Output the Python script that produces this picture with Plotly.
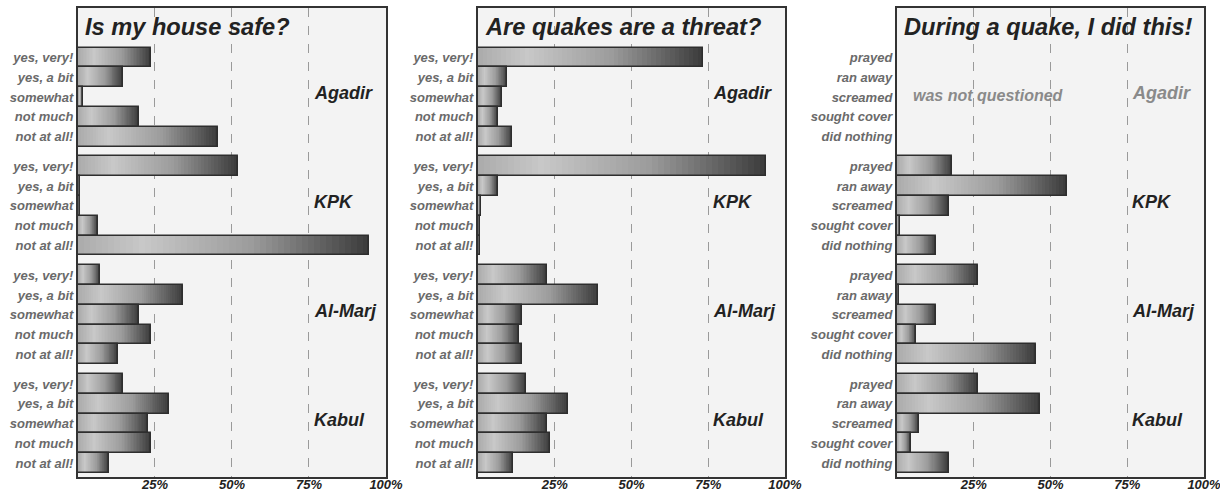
import plotly.graph_objects as go
from plotly.colors import sample_colorscale

# ---- data -------------------------------------------------------------
cities = ["Agadir", "KPK", "Al-Marj", "Kabul"]

answers_opinion = ["yes, very!", "yes, a bit", "somewhat", "not much", "not at all!"]
answers_action = ["prayed", "ran away", "screamed", "sought cover", "did nothing"]

titles = ["Is my house safe?", "Are quakes are a threat?", "During a quake, I did this!"]

# percentages per city, in answer order
house_safe = {
    "Agadir": [23.7, 14.5, 1.7, 19.7, 45.5],
    "KPK": [51.8, 0.8, 0.8, 6.4, 94.4],
    "Al-Marj": [7.2, 34.2, 19.7, 23.7, 12.9],
    "Kabul": [14.6, 29.4, 22.8, 23.7, 10.0],
}
quake_threat = {
    "Agadir": [73.2, 9.6, 7.7, 6.4, 11.1],
    "KPK": [93.8, 6.4, 1.0, 0.5, 0.5],
    "Al-Marj": [22.6, 39.2, 14.3, 13.2, 14.3],
    "Kabul": [15.5, 29.2, 22.5, 23.5, 11.4],
}
quake_action = {
    "Agadir": None,  # was not questioned
    "KPK": [18.0, 55.2, 16.8, 1.0, 12.6],
    "Al-Marj": [26.3, 0.7, 12.6, 6.3, 45.3],
    "Kabul": [26.3, 46.6, 7.2, 4.5, 16.8],
}

x_ticks = [25, 50, 75, 100]
x_tick_labels = ["25%", "50%", "75%", "100%"]

# ---- styling ----------------------------------------------------------
FONT = "Liberation Sans, Arial, sans-serif"
GROUP_GAP = 0.5
N_STEPS = 48
SHADE = [[0.0, "#ababab"], [0.22, "#c8c8c8"], [0.6, "#9b9b9b"], [1.0, "#3a3a3a"]]

x_domains = [[0.0639, 0.3164], [0.3918, 0.6434], [0.7352, 0.9869]]
y_domain = [1 - 477 / 491, 1 - 8 / 491]

panels = [
    (house_safe, answers_opinion),
    (quake_threat, answers_opinion),
    (quake_action, answers_action),
]


def row_pos(g, r):
    return g * (5 + GROUP_GAP) + r


fig = go.Figure()
annotations = []

for p, (data, answers) in enumerate(panels):
    xa = "x" if p == 0 else f"x{p + 1}"
    ya = "y" if p == 0 else f"y{p + 1}"

    ys, vals = [], []
    for g, city in enumerate(cities):
        v = data[city]
        if v is None:
            continue
        for r, val in enumerate(v):
            ys.append(row_pos(g, r))
            vals.append(val)

    # horizontal gradient: stacked overlays, each shorter and lighter
    for k in range(N_STEPS):
        frac = (N_STEPS - k) / N_STEPS
        col = sample_colorscale(SHADE, [(N_STEPS - k - 0.5) / N_STEPS])[0]
        fig.add_trace(go.Bar(
            orientation="h", y=ys, x=[v * frac for v in vals], width=1.0,
            marker=dict(color=col, line=dict(width=0)),
            xaxis=xa, yaxis=ya, showlegend=False, hoverinfo="skip",
        ))
    # bar outlines
    fig.add_trace(go.Bar(
        orientation="h", y=ys, x=vals, width=1.0,
        marker=dict(color="rgba(0,0,0,0)", line=dict(color="#2e2e2e", width=1.6)),
        xaxis=xa, yaxis=ya, showlegend=False,
    ))

    tickvals, ticktext = [], []
    for g in range(len(cities)):
        for r, a in enumerate(answers):
            tickvals.append(row_pos(g, r))
            ticktext.append(a)

    axis_suffix = "" if p == 0 else str(p + 1)
    fig.update_layout(**{
        f"xaxis{axis_suffix}": dict(
            domain=x_domains[p], range=[0, 100], anchor=ya, automargin=False,
            tickvals=x_ticks, ticktext=x_tick_labels,
            ticklabeloverflow="allow", ticklabelstandoff=-6,
            showgrid=True, gridcolor="#9a9a9a", griddash="dash", gridwidth=1,
            zeroline=False, showline=True, mirror=True,
            linecolor="#333333", linewidth=2, ticks="",
            tickfont=dict(family=FONT, size=13, color="#222222",
                          weight="bold", style="italic"),
            fixedrange=True,
        ),
        f"yaxis{axis_suffix}": dict(
            domain=y_domain, range=[21.2, -2.5], anchor=xa, automargin=False,
            tickvals=tickvals, ticktext=ticktext, ticklabeloverflow="allow",
            showgrid=False, zeroline=False, showline=True, mirror=True,
            linecolor="#333333", linewidth=2, ticks="",
            tickfont=dict(family=FONT, size=13, color="#6a6a6a",
                          weight="bold", style="italic"),
            fixedrange=True,
        ),
    })

    # panel title inside the frame
    annotations.append(dict(
        text=titles[p], xref=f"{xa} domain", yref=f"{ya} domain",
        x=0, y=0.9595, xanchor="left", yanchor="middle", xshift=5,
        showarrow=False,
        font=dict(family=FONT, size=23.6, color="#222222", weight="bold", style="italic"),
    ))

    # city labels
    for g, city in enumerate(cities):
        missing = data[city] is None
        annotations.append(dict(
            text=city, xref=xa, yref=ya, x=76, y=row_pos(g, 2) - 0.2,
            xanchor="left", yanchor="middle", showarrow=False,
            font=dict(family=FONT, size=18, color="#8a8a8a" if missing else "#222222",
                      weight="bold", style="italic"),
        ))
        if missing:
            annotations.append(dict(
                text="was not questioned", xref=xa, yref=ya, x=4.5,
                y=row_pos(g, 2) - 0.1, xanchor="left", yanchor="middle",
                showarrow=False,
                font=dict(family=FONT, size=16, color="#8a8a8a",
                          weight="bold", style="italic"),
            ))

fig.update_layout(
    width=1220, height=491,
    margin=dict(l=0, r=0, t=0, b=0, autoexpand=False),
    paper_bgcolor="white", plot_bgcolor="#f3f3f3",
    barmode="overlay", bargap=0,
    annotations=annotations,
    showlegend=False,
)

fig.write_html("out.html", config={"displayModeBar": False})
